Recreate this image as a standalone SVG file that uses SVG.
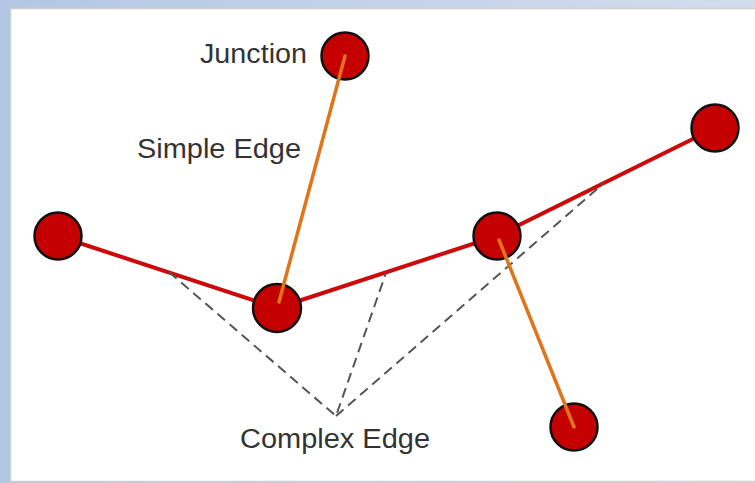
<svg xmlns="http://www.w3.org/2000/svg" width="755" height="483" viewBox="0 0 755 483">
<defs>
<linearGradient id="bg" x1="0" y1="0" x2="1" y2="0">
<stop offset="0" stop-color="#b3c7e3"/>
<stop offset="1" stop-color="#d3deec"/>
</linearGradient>
</defs>
<style>
.node{fill:#c40000;stroke:#111;stroke-width:2.5}
.red{fill:none;stroke:#cc0a0a;stroke-width:4;stroke-linejoin:round}
.orange{stroke:#e07418;stroke-width:3.5;stroke-linecap:round}
.dash{fill:none;stroke:#555;stroke-width:2;stroke-dasharray:10 6}
.lbl{font-family:"Liberation Sans",Arial,sans-serif;font-size:27px;fill:#333}
</style>
<rect x="0" y="0" width="755" height="483" fill="url(#bg)"/>
<rect x="0" y="0" width="11" height="483" fill="#b0c6e2"/>
<rect x="10.5" y="8.5" width="750" height="473" fill="#ffffff" stroke="#cfcfcf" stroke-width="1.5"/>
<g id="connectors">
<polyline class="red" points="58,236 277,308 497,236 715,128"/>
<polyline class="dash" points="169,272 336,416 386,273"/>
<line class="dash" x1="336" y1="416" x2="604" y2="183"/>
</g>
<g id="node-left"><circle class="node" cx="58" cy="236" r="23.5"/></g>
<g id="node-center"><circle class="node" cx="277" cy="308" r="24"/></g>
<g id="node-mid"><circle class="node" cx="497" cy="236" r="23.5"/></g>
<g id="node-topright"><circle class="node" cx="715" cy="128" r="23.5"/></g>
<g id="node-junction"><circle class="node" cx="345" cy="56" r="23.5"/></g>
<g id="node-bottomright"><circle class="node" cx="574" cy="427" r="23.5"/></g>
<g id="simple-edges">
<line class="orange" x1="345" y1="56" x2="279" y2="302"/>
<line class="orange" x1="499" y1="240" x2="574" y2="427"/>
</g>
<g id="labels">
<text class="lbl" x="307" y="63" text-anchor="end" textLength="107" lengthAdjust="spacingAndGlyphs">Junction</text>
<text class="lbl" x="137" y="158" textLength="164" lengthAdjust="spacingAndGlyphs">Simple Edge</text>
<text class="lbl" x="240" y="448" textLength="190" lengthAdjust="spacingAndGlyphs">Complex Edge</text>
</g>
</svg>
